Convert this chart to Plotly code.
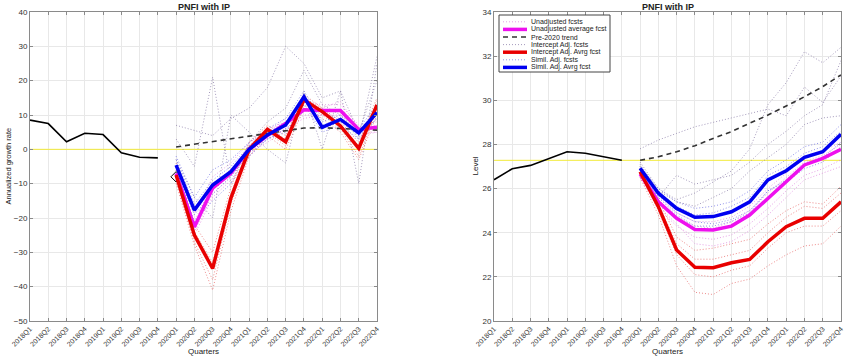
import plotly.graph_objects as go

quarters = ["2018Q1","2018Q2","2018Q3","2018Q4","2019Q1","2019Q2","2019Q3","2019Q4",
            "2020Q1","2020Q2","2020Q3","2020Q4","2021Q1","2021Q2","2021Q3","2021Q4",
            "2022Q1","2022Q2","2022Q3","2022Q4"]
hist_q = quarters[:8]
fc_q = quarters[8:]

# ---------- Left panel: annualized growth rate ----------
g_hist = [8.5, 7.5, 2.2, 4.7, 4.3, -1.0, -2.3, -2.5]
g_actual_2020q1 = [-8.0]
g_trend = [0.7, 1.5, 2.4, 3.2, 4.0, 4.8, 5.5, 6.2, 6.3, 6.0, 5.8, 5.6]
g_unadj_avg = [-7.0, -22.6, -11.3, -7.0, 0.0, 4.0, 7.5, 11.5, 11.3, 11.3, 5.8, 6.4]
g_int_avg = [-7.5, -25.0, -34.7, -14.2, 0.0, 5.8, 2.2, 14.4, 11.0, 6.8, 0.3, 12.9]
g_sim_avg = [-4.6, -17.7, -10.4, -6.5, 0.0, 4.2, 7.1, 15.3, 6.4, 8.7, 4.8, 10.7]

g_unadj_fc = [
    [-5, -19, -8, -4, 2, 5, 9, 14, 13, 13, 7, 8],
    [-9, -25, -14, -9, -2, 3, 6, 10, 10, 9, 4, 5],
    [-6, -21, -10, -6, 1, 6, 8, 12, 12, 14, 6, 7],
    [-8, -24, -13, -8, -1, 2, 6, 9, 10, 10, 5, 5],
]
g_int_fc = [
    [-4, -22, -30, -11, 2, 7, 4, 16, 12, 8, 2, 15],
    [-10, -28, -41, -18, -2, 4, 0, 12, 9, 5, -3, 10],
    [-6, -24, -33, -13, 1, 6, 3, 15, 12, 7, 1, 14],
    [-9, -27, -38, -16, -1, 5, 1, 13, 10, 6, -2, 11],
]
g_sim_fc = [
    [-2, -14, -6, -3, 2, 6, 9, 17, 8, 10, 6, 13],
    [-7, -21, -15, -10, -2, 3, 5, 13, 5, 7, 3, 9],
    [-3, -16, -9, -5, 1, 5, 8, 14, 7, 9, 5, 12],
    [-6, -19, -13, -8, -1, 3, 6, 16, 6, 8, 4, 9],
]
g_other_fc = [
    [7, 5.5, 4, 9, 12, 18, 30, 25, 15, 17, 5, 20],
    [3, -5, 21, -10, 2, 8, 12, 23, 13, 10, 3, 27],
    [-3, -14, -20, 10, 5, 0, -4, 17, 0, 17, -10, 25],
]
g_ref = 0.0

# ---------- Right panel: level ----------
l_hist = [26.4, 26.9, 27.05, 27.35, 27.67, 27.6, 27.45, 27.28]
l_trend = [27.28, 27.44, 27.67, 27.94, 28.27, 28.58, 28.96, 29.33, 29.74, 30.16, 30.62, 31.15]
l_unadj_avg = [26.66, 25.4, 24.65, 24.15, 24.12, 24.3, 24.8, 25.56, 26.31, 27.07, 27.37, 27.78]
l_int_avg = [26.76, 25.18, 23.22, 22.43, 22.41, 22.64, 22.79, 23.59, 24.27, 24.65, 24.65, 25.4]
l_sim_avg = [26.92, 25.79, 25.1, 24.7, 24.73, 24.95, 25.4, 26.39, 26.81, 27.42, 27.67, 28.46]

l_unadj_fc = [
    [26.8, 25.6, 24.9, 24.5, 24.5, 24.7, 25.2, 26.0, 26.7, 27.4, 27.7, 28.1],
    [26.5, 25.1, 24.3, 23.8, 23.7, 23.9, 24.4, 25.1, 25.9, 26.6, 26.9, 27.3],
    [26.7, 25.5, 24.7, 24.3, 24.2, 24.5, 25.0, 25.8, 26.5, 27.2, 27.5, 28.0],
    [26.6, 25.2, 24.4, 23.5, 23.4, 23.6, 24.1, 24.8, 25.6, 26.4, 26.7, 27.0],
]
l_int_fc = [
    [26.5, 24.8, 22.5, 21.3, 21.2, 21.7, 21.9, 22.5, 23.0, 23.4, 23.5, 24.3],
    [26.8, 25.3, 23.5, 22.8, 22.8, 23.0, 23.2, 24.0, 24.7, 25.2, 25.1, 25.8],
    [26.7, 25.0, 23.0, 22.1, 22.0, 22.3, 22.5, 23.3, 24.0, 24.3, 24.3, 25.0],
    [26.9, 25.5, 23.8, 23.2, 23.3, 23.5, 23.7, 24.4, 25.0, 25.4, 25.3, 26.1],
]
l_sim_fc = [
    [27.0, 26.0, 25.4, 25.1, 25.2, 25.4, 25.9, 26.8, 27.3, 27.9, 28.1, 28.9],
    [26.8, 25.6, 24.8, 24.3, 24.3, 24.5, 24.9, 25.9, 26.3, 26.9, 27.2, 27.9],
    [26.9, 25.8, 25.2, 24.8, 24.9, 25.2, 25.6, 26.6, 27.0, 27.6, 27.9, 28.6],
    [26.9, 25.7, 24.9, 24.5, 24.4, 24.6, 25.0, 25.9, 26.4, 27.1, 27.4, 28.1],
]
l_other_fc = [
    [27.8, 28.2, 28.5, 28.8, 29.0, 29.2, 29.4, 29.6, 29.3, 30.6, 29.9, 31.1],
    [27.2, 26.0, 25.5, 25.8, 26.3, 26.8, 27.8, 29.8, 30.8, 32.2, 31.7, 32.4],
    [27.0, 25.6, 26.6, 26.2, 26.4, 26.6, 27.2, 28.0, 28.6, 29.3, 29.8, 31.8],
    [27.1, 25.9, 25.4, 25.2, 25.6, 26.0, 26.8, 27.4, 28.0, 28.9, 29.2, 29.3],
]
l_ref = 27.28

legend_labels = ["Unadjusted fcsts", "Unadjusted average fcst", "Pre-2020 trend",
                 "Intercept Adj. fcsts", "Intercept Adj. Avrg fcst",
                 "Simil. Adj. fcsts", "Simil. Adj. Avrg fcst"]

# ---------- styles ----------
C_UNADJ_DOT = "rgba(220,130,220,0.75)"
C_INT_DOT = "rgba(230,90,90,0.7)"
C_SIM_DOT = "rgba(100,100,225,0.7)"
C_OTHER_DOT = "rgba(135,120,165,0.75)"
C_MAG = "#ee10ee"
C_RED = "#e80000"
C_BLUE = "#0000f0"
C_TREND = "#333333"
C_YEL = "#f2ea3a"
DOT = "1px,2px"
FONT = "Liberation Sans, Arial, sans-serif"

fig = go.Figure()


def add_panel(xa, ya, hist, trend, unadj_avg, int_avg, sim_avg,
              unadj_fc, int_fc, sim_fc, other_fc, ref, actual=None):
    fig.add_trace(go.Scatter(x=[quarters[0], quarters[-1]], y=[ref, ref], mode="lines",
                             line=dict(color=C_YEL, width=1), xaxis=xa, yaxis=ya,
                             hoverinfo="skip"))
    for series, col in [(unadj_fc, C_UNADJ_DOT), (other_fc, C_OTHER_DOT),
                        (int_fc, C_INT_DOT), (sim_fc, C_SIM_DOT)]:
        for s in series:
            fig.add_trace(go.Scatter(x=fc_q, y=s, mode="lines",
                                     line=dict(color=col, width=1, dash=DOT),
                                     xaxis=xa, yaxis=ya))
    fig.add_trace(go.Scatter(x=hist_q, y=hist, mode="lines",
                             line=dict(color="black", width=1.6), xaxis=xa, yaxis=ya))
    if actual is not None:
        fig.add_trace(go.Scatter(x=fc_q[:1], y=actual, mode="markers",
                                 marker=dict(symbol="diamond-open", size=8,
                                             color="black", line=dict(width=1)),
                                 xaxis=xa, yaxis=ya))
    fig.add_trace(go.Scatter(x=fc_q, y=trend, mode="lines",
                             line=dict(color=C_TREND, width=1.6, dash="5px,4px"),
                             xaxis=xa, yaxis=ya, name="Pre-2020 trend"))
    fig.add_trace(go.Scatter(x=fc_q, y=unadj_avg, mode="lines",
                             line=dict(color=C_MAG, width=3.5), xaxis=xa, yaxis=ya,
                             name="Unadjusted average fcst"))
    fig.add_trace(go.Scatter(x=fc_q, y=int_avg, mode="lines",
                             line=dict(color=C_RED, width=3.5), xaxis=xa, yaxis=ya,
                             name="Intercept Adj. Avrg fcst"))
    fig.add_trace(go.Scatter(x=fc_q, y=sim_avg, mode="lines",
                             line=dict(color=C_BLUE, width=3.5), xaxis=xa, yaxis=ya,
                             name="Simil. Adj. Avrg fcst"))


add_panel("x", "y", g_hist, g_trend, g_unadj_avg, g_int_avg, g_sim_avg,
          g_unadj_fc, g_int_fc, g_sim_fc, g_other_fc, g_ref, actual=g_actual_2020q1)
add_panel("x2", "y2", l_hist, l_trend, l_unadj_avg, l_int_avg, l_sim_avg,
          l_unadj_fc, l_int_fc, l_sim_fc, l_other_fc, l_ref)

W, H = 850, 358


def px(x):
    return x / W


def py(y):
    return 1 - y / H


ytop, ybot = py(12), py(321)
xl = [px(30), px(377)]
xr = [px(494), px(841)]

axis_common = dict(showline=True, linecolor="#8a8a8a", linewidth=1, mirror="ticks",
                   ticks="inside", ticklen=3, tickcolor="#8a8a8a", automargin=False,
                   showgrid=True, gridcolor="#e8e8e8", gridwidth=1, zeroline=False,
                   tickfont=dict(family=FONT, size=8, color="#333333"))

xcommon = dict(axis_common, type="category", categoryorder="array", categoryarray=quarters,
               range=[0, len(quarters) - 1], tickangle=-45, tickmode="array",
               tickvals=quarters, ticktext=quarters,
               tickfont=dict(family=FONT, size=7, color="#333333"))

fig.update_layout(
    width=W, height=H,
    margin=dict(l=0, r=0, t=0, b=0, autoexpand=False),
    paper_bgcolor="white", plot_bgcolor="white",
    font=dict(family=FONT, size=8, color="#222222"),
    xaxis=dict(xcommon, domain=xl, anchor="y"),
    yaxis=dict(axis_common, domain=[ybot, ytop], range=[-50, 40], dtick=10, anchor="x"),
    xaxis2=dict(xcommon, domain=xr, anchor="y2"),
    yaxis2=dict(axis_common, domain=[ybot, ytop], range=[20, 34], dtick=2, anchor="x2"),
    showlegend=False,
)

annos = [
    dict(text="<b>PNFI with IP</b>", x=(xl[0] + xl[1]) / 2, y=py(6.5), size=9),
    dict(text="<b>PNFI with IP</b>", x=(xr[0] + xr[1]) / 2, y=py(6.5), size=9),
    dict(text="Quarters", x=(xl[0] + xl[1]) / 2, y=py(351), size=8),
    dict(text="Quarters", x=(xr[0] + xr[1]) / 2, y=py(351), size=8),
    dict(text="Annualized growth rate", x=px(8), y=(ytop + ybot) / 2, size=7.5, textangle=-90),
    dict(text="Level", x=px(475), y=(ytop + ybot) / 2, size=8, textangle=-90),
]
for a in annos:
    size = a.pop("size")
    fig.add_annotation(xref="paper", yref="paper", showarrow=False,
                       xanchor="center", yanchor="middle", borderpad=0,
                       font=dict(family=FONT, size=size, color="#222222"), **a)

# ---------- legend box (drawn in right panel, top-left) ----------
fig.add_shape(type="rect", xref="paper", yref="paper",
              x0=px(499), x1=px(610), y0=py(15), y1=py(72),
              line=dict(color="#444444", width=1), fillcolor="white", layer="above")
leg_styles = [
    dict(color=C_UNADJ_DOT, width=1, dash="1px,2px"),
    dict(color=C_MAG, width=3.5),
    dict(color=C_TREND, width=1.6, dash="5px,4px"),
    dict(color=C_OTHER_DOT, width=1, dash="1px,2px"),
    dict(color=C_RED, width=3.5),
    dict(color=C_SIM_DOT, width=1, dash="1px,2px"),
    dict(color=C_BLUE, width=3.5),
]
leg_y = [21.8, 29.4, 37.0, 44.6, 52.2, 59.8, 67.4]
for lab, st, yy in zip(legend_labels, leg_styles, leg_y):
    fig.add_shape(type="line", xref="paper", yref="paper",
                  x0=px(503), x1=px(527), y0=py(yy), y1=py(yy), line=st, layer="above")
    fig.add_annotation(xref="paper", yref="paper", showarrow=False, borderpad=0,
                       x=px(529.5), y=py(yy), xanchor="left", yanchor="middle", align="left",
                       text=lab, font=dict(family=FONT, size=7, color="#222222"))

fig.write_html("out.html", config={"displayModeBar": False},
               post_script="document.body.style.margin='0';document.body.style.overflow='hidden';")
